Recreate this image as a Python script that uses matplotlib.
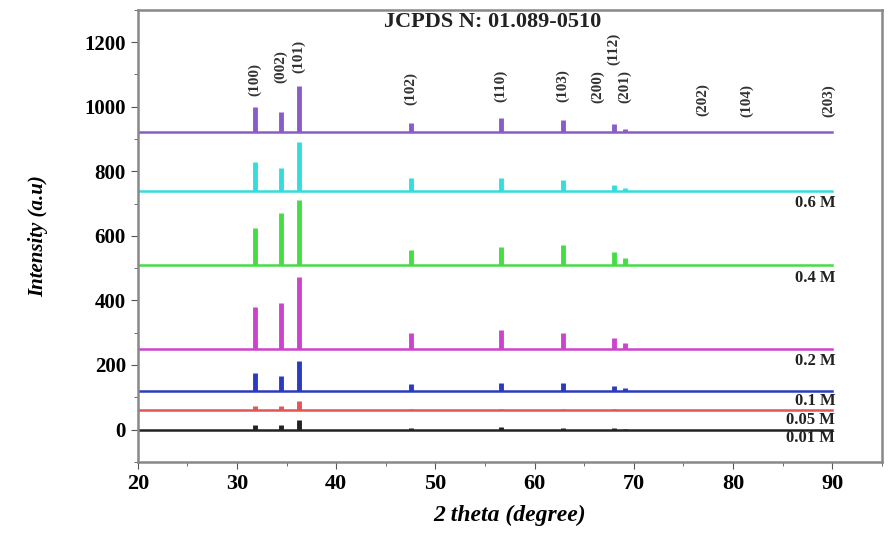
import matplotlib.pyplot as plt
from matplotlib.ticker import MultipleLocator

# peak positions (2 theta) used by every pattern
peak_pos = [31.77, 34.42, 36.25, 47.54, 56.60, 62.86, 67.96, 69.10]

# baselines (offsets) and peak heights above baseline
offsets = [0, 60, 120, 250, 510, 740, 920]
names = ["0.01 M", "0.05 M", "0.1 M", "0.2 M", "0.4 M", "0.6 M", ""]
colors = ["#222222", "#e05555", "#2a3bc0", "#cc44cc", "#44dd44", "#33dddd", "#8a5cc8"]
heights = [
    [15, 15, 31, 5, 8, 6, 4, 2],
    [12, 12, 28, 5, 5, 5, 3, 2],
    [56, 46, 93, 22, 25, 25, 15, 9],
    [130, 142, 223, 50, 59, 50, 34, 19],
    [115, 160, 200, 46, 56, 62, 40, 22],
    [90, 71, 152, 40, 40, 34, 18, 9],
    [80, 62, 145, 30, 45, 40, 25, 10],
]
label_y = [-27, 31, 90, 213, 470, 702, None]

# JCPDS reflections
hkl = ["(100)", "(002)", "(101)", "(102)", "(110)", "(103)", "(200)", "(112)",
       "(201)", "(202)", "(104)", "(203)"]
hkl_pos = [31.77, 34.42, 36.25, 47.54, 56.60, 62.86, 66.38, 67.96, 69.10,
           76.95, 81.37, 89.60]
hkl_y = [1083, 1123, 1154, 1055, 1064, 1064, 1061, 1180, 1061, 1021, 1018, 1018]

plt.rcParams["font.family"] = ["Liberation Serif", "DejaVu Serif"]
plt.rcParams["font.weight"] = "bold"

fig = plt.figure(figsize=(8.89, 5.44), dpi=100)
ax = fig.add_axes([0.155, 0.151, 0.837, 0.831])

for off, h, c, name, ly in zip(offsets, heights, colors, names, label_y):
    ax.plot([20, 90], [off, off], color=c, lw=1.8)
    ax.vlines(peak_pos, off, [off + v for v in h], color=c, lw=3.5)
    if name:
        ax.text(90.3, ly, name, ha="right", va="center", fontsize=12,
                fontweight="bold", color="#222222")

for lab, x, y in zip(hkl, hkl_pos, hkl_y):
    ax.text(x, y, lab, rotation=90, ha="center", va="center", fontsize=11,
            fontweight="bold", color="#333333")

ax.text(55.8, 1262, "JCPDS N: 01.089-0510", ha="center", va="center",
        fontsize=16, fontweight="bold", color="#222222")

ax.set_xlim(20, 95)
ax.set_ylim(-100, 1300)
ax.xaxis.set_major_locator(MultipleLocator(10))
ax.xaxis.set_minor_locator(MultipleLocator(5))
ax.yaxis.set_minor_locator(MultipleLocator(100))
ax.set_yticks(range(0, 1201, 200))
ax.set_xticks(range(20, 91, 10))
ax.tick_params(which="both", direction="out", labelsize=15, color="#555555")
ax.tick_params(axis="x", labelsize=16)
ax.tick_params(which="major", length=5)
ax.tick_params(which="minor", length=3)
for s in ax.spines.values():
    s.set_color("#888888")
    s.set_linewidth(1.8)

ax.set_xlabel("2 theta (degree)", fontsize=17, fontstyle="italic",
              fontweight="bold", labelpad=8)
ax.set_ylabel("Intensity (a.u)", fontsize=15, fontstyle="italic",
              fontweight="bold", labelpad=26)

fig.savefig("out.png", dpi=100)
